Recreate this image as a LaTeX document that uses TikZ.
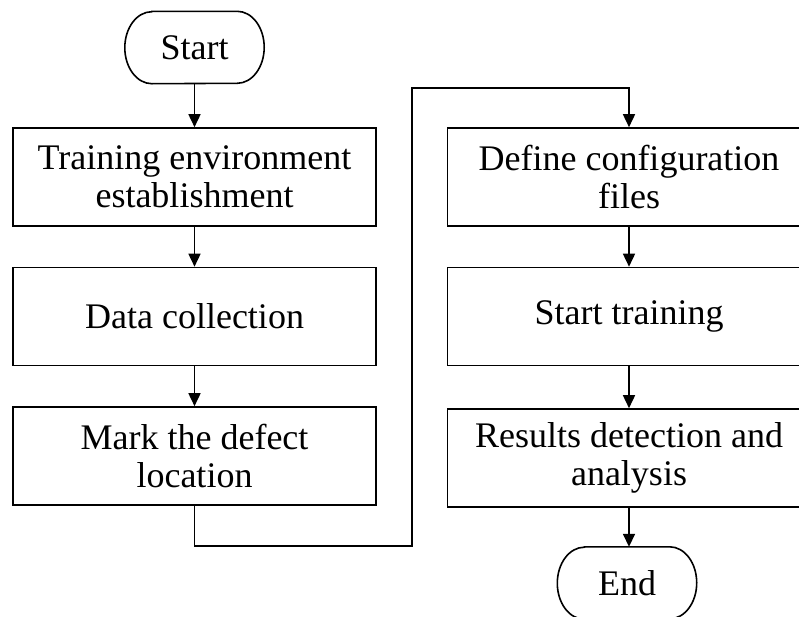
\documentclass[tikz,border=0pt]{standalone}
\usepackage{fontspec}
\setmainfont{Liberation Serif}
\usetikzlibrary{arrows.meta}
\begin{document}
\begin{tikzpicture}[x=1pt,y=-1pt,
  line/.style={line width=1.6pt,draw=black},
  flow/.style={line,-{Triangle[length=13pt,width=12pt]}},
  stepbox/.style={line,rectangle,minimum width=363pt,minimum height=98pt,
    inner sep=0pt,align=center,font=\fontsize{36}{38}\selectfont},
  terminal/.style={rectangle,draw=none,minimum width=139pt,minimum height=72pt,
    inner sep=0pt,font=\fontsize{36}{38}\selectfont}]
\useasboundingbox (0,0) rectangle (799,616);
\clip (0,0) rectangle (799,616);

% outline of a start/end terminal with elliptical ends
\newcommand\terminaloutline[1]{%
  \draw[line] ([xshift=27pt]#1.north west) -- ([xshift=-27pt]#1.north east)
    arc[start angle=90,end angle=-90,x radius=27pt,y radius=36pt]
    -- ([xshift=27pt]#1.south west)
    arc[start angle=270,end angle=90,x radius=27pt,y radius=36pt] -- cycle;}

% left column
\node[terminal] (start) at (194.5,47.5) {Start};
\terminaloutline{start}
\node[stepbox] (env)  at (194.5,177) {Training environment\\establishment};
\node[stepbox] (data) at (194.5,316.5) {Data collection};
\node[stepbox] (mark) at (194.5,456) {Mark the defect\\location};

% right column
\node[stepbox] (conf)  at (629,177) {Define configuration\\files};
\node[stepbox] (train) at (629,316.5) {Start training};
\node[stepbox] (res)   at (629,458) {Results detection and\\analysis};
\node[terminal] (end) at (627,583) {End};
\terminaloutline{end}

% connectors
\draw[flow] (start) -- (env);
\draw[flow] (env) -- (data);
\draw[flow] (data) -- (mark);
\coordinate (loopL) at (412,546);
\coordinate (loopR) at (412,88);
\draw[flow] (mark.south) |- (loopL) -- (loopR) -| (conf.north);
\draw[flow] (conf) -- (train);
\draw[flow] (train) -- (res);
\draw[flow] (res.south) -- (end.north -| res.south);
\end{tikzpicture}
\end{document}
